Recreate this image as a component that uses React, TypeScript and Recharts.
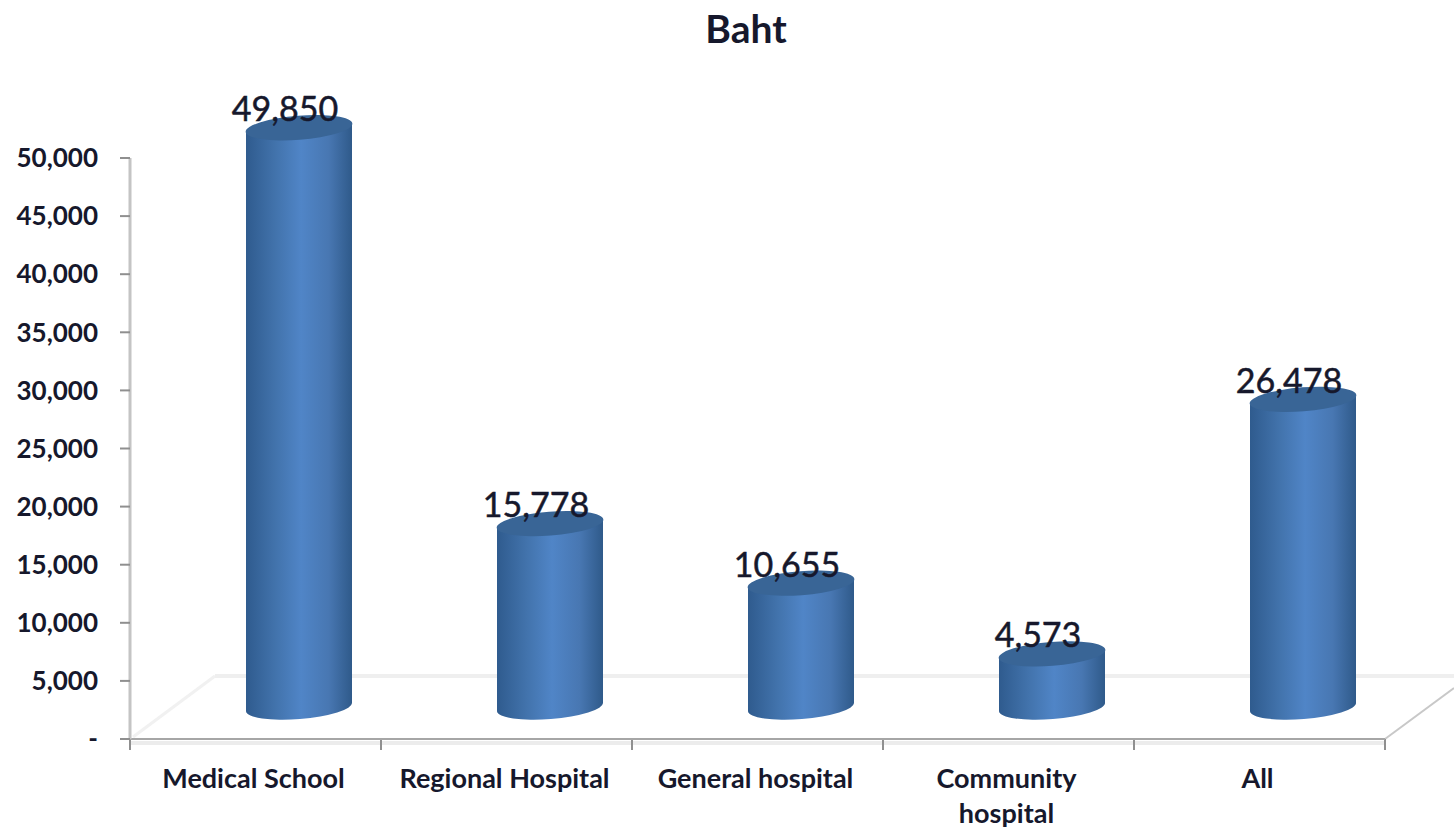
import React from "react";
import { BarChart, Bar, XAxis, YAxis, LabelList } from "recharts";

const categories: string[] = ["Medical School", "Regional Hospital", "General hospital", "Community hospital", "All"];
const baht: number[] = [49850, 15778, 10655, 4573, 26478];
const yTicks: number[] = [0, 5000, 10000, 15000, 20000, 25000, 30000, 35000, 40000, 45000, 50000];

const data = categories.map((name, i) => ({ name, value: baht[i] }));

const WIDTH = 1454;
const HEIGHT = 828;
const MARGIN = { top: 158, right: 69, bottom: 0, left: 0 };
const AXIS_LEFT = 130;
const AXIS_HEIGHT = 89;
const PLOT_BOTTOM = HEIGHT - AXIS_HEIGHT;
const PLOT_RIGHT = WIDTH - MARGIN.right;
const BAND = (PLOT_RIGHT - AXIS_LEFT) / categories.length;

// 3D look: the bars sit further back on the floor than the axis
const DEPTH_X = 43;
const DEPTH_Y = 32;
const TILT = 4.5;

const TEXT = "#16182c";
const FONT = "Lato, 'Open Sans', sans-serif";

const Cylinder = (props: any) => {
  const { x, y, width, height } = props;
  const left = x + DEPTH_X;
  const right = left + width;
  const rx = width / 2;
  const cx = left + rx;
  const drop = Math.tan((TILT * Math.PI) / 180) * rx;
  const topY = y - DEPTH_Y;
  const baseY = y + height - DEPTH_Y;
  const ry = 12;
  return (
    <g>
      <path
        d={`M${left} ${topY + drop} L${left} ${baseY + drop} A${rx} ${ry} ${-TILT} 0 0 ${right} ${baseY - drop} L${right} ${topY - drop} Z`}
        fill="url(#cylinderFill)"
      />
      <ellipse
        cx={cx}
        cy={topY}
        rx={rx + 0.5}
        ry={ry}
        fill="#396596"
        transform={`rotate(${-TILT} ${cx} ${topY})`}
      />
    </g>
  );
};

const ValueLabel = (props: any) => {
  const { x, y, width, value } = props;
  return (
    <text
      x={x + width / 2 + DEPTH_X - 14}
      y={y - DEPTH_Y - 20}
      textAnchor="middle"
      dominantBaseline="central"
      fontFamily={FONT}
      fontSize={34}
      fill={TEXT}
      stroke={TEXT}
      strokeWidth={0.5}
    >
      {Number(value).toLocaleString("en-US")}
    </text>
  );
};

const CategoryTick = (props: any) => {
  const { x, y, payload } = props;
  const lines: string[] = payload.value === "Community hospital" ? payload.value.split(" ") : [payload.value];
  return (
    <text x={x - 2} textAnchor="middle" fontFamily={FONT} fontSize={27} fontWeight={700} fill={TEXT}>
      {lines.map((line, i) => (
        <tspan key={line} x={x - 2} y={y + 30 + i * 35} dominantBaseline="central">
          {line}
        </tspan>
      ))}
    </text>
  );
};

// floor of the 3D plot and the tick marks between categories
const Floor = () => (
  <g>
    <line x1={215} y1={676} x2={WIDTH} y2={676} stroke="#efefef" strokeWidth={4} />
    <line x1={AXIS_LEFT + 3} y1={PLOT_BOTTOM - 2} x2={215} y2={676} stroke="#f1f1f1" strokeWidth={3} />
    <line x1={PLOT_RIGHT} y1={PLOT_BOTTOM} x2={WIDTH} y2={688} stroke="#c8c8c8" strokeWidth={2} />
    <line x1={AXIS_LEFT} y1={PLOT_BOTTOM + 4} x2={PLOT_RIGHT} y2={PLOT_BOTTOM + 4} stroke="#ececec" strokeWidth={4} />
    {categories.concat("").map((_c, i) => (
      <line
        key={i}
        x1={AXIS_LEFT + i * BAND}
        y1={PLOT_BOTTOM}
        x2={AXIS_LEFT + i * BAND}
        y2={PLOT_BOTTOM + 11}
        stroke="#8f8f8f"
        strokeWidth={2}
      />
    ))}
  </g>
);

export default function App() {
  return (
    <div style={{ position: "absolute", left: 0, top: 0, width: WIDTH, height: HEIGHT, background: "#fff" }}>
      <div
        style={{
          position: "absolute",
          left: 0,
          right: 0,
          top: 5,
          paddingLeft: 38,
          textAlign: "center",
          fontFamily: FONT,
          fontSize: 39,
          fontWeight: 700,
          color: TEXT,
        }}
      >
        Baht
      </div>
      <BarChart width={WIDTH} height={HEIGHT} data={data} margin={MARGIN} barSize={106}>
        <defs>
          <linearGradient id="cylinderFill" x1="0" y1="0" x2="1" y2="0">
            <stop offset="0%" stopColor="#2f5b8e" />
            <stop offset="28%" stopColor="#4273ac" />
            <stop offset="52%" stopColor="#5085c7" />
            <stop offset="78%" stopColor="#4877b2" />
            <stop offset="100%" stopColor="#2f5a8a" />
          </linearGradient>
        </defs>
        <Floor />
        <XAxis
          dataKey="name"
          height={AXIS_HEIGHT}
          interval={0}
          tickLine={false}
          axisLine={{ stroke: "#a6a6a6", strokeWidth: 2 }}
          tick={<CategoryTick />}
        />
        <YAxis
          width={AXIS_LEFT}
          domain={[0, 50000]}
          ticks={yTicks}
          interval={0}
          tickSize={10}
          tickMargin={22}
          tickLine={{ stroke: "#8f8f8f", strokeWidth: 2 }}
          axisLine={{ stroke: "#c4c4c4", strokeWidth: 3 }}
          tick={{ fontFamily: FONT, fontSize: 26, fontWeight: 700, fill: TEXT }}
          tickFormatter={(v: number) => (v === 0 ? "-" : v.toLocaleString("en-US"))}
        />
        <Bar dataKey="value" isAnimationActive={false} shape={<Cylinder />}>
          <LabelList dataKey="value" content={<ValueLabel />} />
        </Bar>
      </BarChart>
    </div>
  );
}
